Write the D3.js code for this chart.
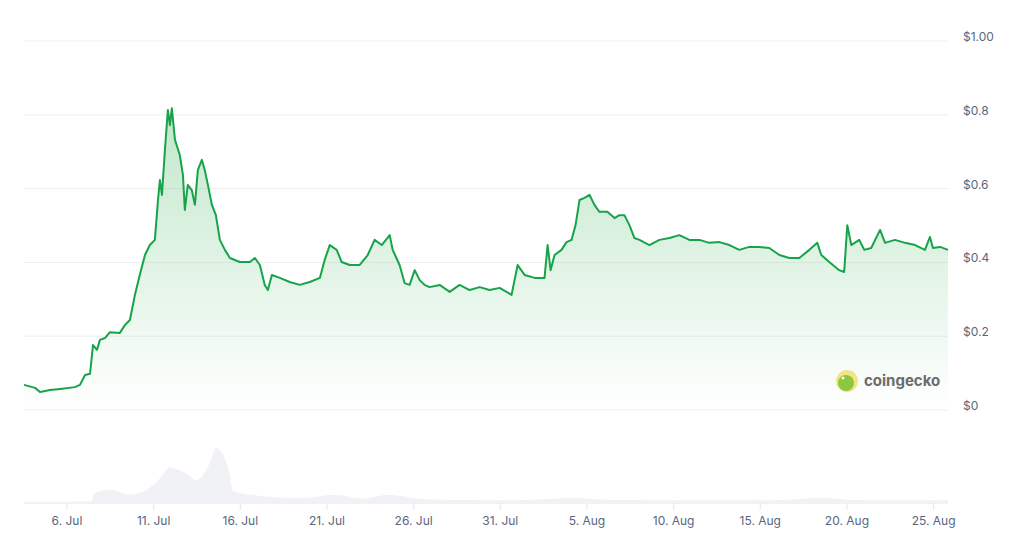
<!DOCTYPE html>
<html><head><meta charset="utf-8">
<script src="https://cdn.jsdelivr.net/npm/d3@7"></script>
<style>body{margin:0;background:#fff;font-family:Inter,"Noto Sans",sans-serif}</style>
</head><body><svg id="c" width="1024" height="540"></svg>
<script>
// time in fractional "day of July 2024" (32 = 1 Aug)
const days = [3.52,4.16,4.44,5.02,5.60,6.46,6.75,7.04,7.33,7.50,7.73,7.90,8.19,8.48,9.05,9.34,9.63,9.92,10.20,10.50,10.78,11.07,11.25,11.36,11.48,11.65,11.82,11.94,12.05,12.23,12.51,12.69,12.80,12.97,13.20,13.38,13.55,13.78,13.95,14.13,14.36,14.59,14.82,15.11,15.40,15.97,16.55,16.84,17.13,17.41,17.59,17.82,18.28,18.85,19.43,20.01,20.59,20.87,21.16,21.56,21.85,22.31,22.89,23.35,23.75,24.16,24.62,24.79,25.19,25.48,25.77,26.06,26.35,26.63,26.92,27.50,28.08,28.65,29.23,29.81,30.38,30.96,31.65,32.00,32.40,32.98,33.55,33.73,33.90,34.13,34.53,34.82,35.11,35.34,35.57,35.86,36.15,36.43,36.72,37.18,37.59,37.87,38.16,38.45,38.74,39.03,39.60,40.18,40.76,41.33,41.91,42.49,43.06,43.64,44.22,44.79,45.37,45.94,46.52,47.10,47.67,48.25,48.83,49.29,49.52,49.98,50.55,50.84,51.02,51.25,51.71,52.00,52.40,52.91,53.20,53.77,54.35,54.93,55.50,55.79,55.96,56.37,56.83];
const prices = [.068,.060,.049,.054,.057,.062,.068,.095,.098,.176,.163,.19,.195,.211,.209,.23,.244,.312,.366,.42,.447,.461,.569,.623,.583,.705,.813,.772,.818,.732,.691,.637,.542,.61,.596,.556,.65,.678,.65,.61,.556,.528,.461,.434,.412,.401,.401,.412,.393,.339,.325,.366,.358,.347,.339,.347,.358,.407,.447,.434,.401,.393,.393,.42,.461,.447,.474,.434,.393,.344,.339,.379,.352,.339,.333,.339,.32,.339,.325,.333,.325,.331,.312,.393,.366,.358,.358,.447,.379,.42,.434,.455,.461,.501,.569,.575,.583,.556,.537,.537,.52,.528,.528,.501,.466,.461,.447,.461,.466,.474,.461,.461,.453,.455,.447,.434,.442,.442,.439,.42,.412,.412,.434,.453,.42,.401,.379,.374,.501,.447,.461,.434,.439,.488,.453,.461,.453,.447,.434,.469,.439,.442,.434];
const volDays = [3.52,7.4,7.6,8.5,9.6,10.8,11.5,11.9,12.8,13.5,14.2,14.6,15.3,15.6,16.6,19.5,21.5,23.0,24.6,26.5,30,32,35.5,37,42,47,49.5,51,53,56.83];
const volumes = [.02,.03,.18,.24,.15,.28,.5,.65,.55,.42,.7,1.0,.64,.22,.15,.09,.15,.08,.15,.07,.05,.05,.09,.06,.05,.05,.09,.06,.05,.05];
const yTicks = [0,0.2,0.4,0.6,0.8,1.0];
const yTickLabels = ["$0","$0.2","$0.4","$0.6","$0.8","$1.00"];
const xTickDays = [6,11,16,21,26,31,36,41,46,51,56];
const xTickLabels = ["6. Jul","11. Jul","16. Jul","21. Jul","26. Jul","31. Jul","5. Aug","10. Aug","15. Aug","20. Aug","25. Aug"];

const toDate = d => new Date(Date.UTC(2024,6,1) + (d-1)*864e5);
const svg = d3.select("#c");
const x = d3.scaleUtc().domain([toDate(3.52), toDate(56.83)]).range([24,948]);
const y = d3.scaleLinear().domain([0,1]).range([410,41]);
const yv = d3.scaleLinear().domain([0,1]).range([503,448]);

svg.append("g").selectAll("line").data(yTicks).join("line")
  .attr("x1",24).attr("x2",948).attr("y1",d=>y(d)).attr("y2",d=>y(d))
  .attr("stroke","#efefef");
svg.append("g").selectAll("text").data(yTicks).join("text")
  .attr("x",963).attr("y",d=>y(d)).attr("font-size",12).attr("fill","#58667e")
  .text((d,i)=>yTickLabels[i]);

const defs = svg.append("defs");
const g = defs.append("linearGradient").attr("id","gr").attr("x1",0).attr("x2",0).attr("y1",0).attr("y2",1);
g.append("stop").attr("offset","0%").attr("stop-color","#22aa44").attr("stop-opacity",0.28);
g.append("stop").attr("offset","100%").attr("stop-color","#22aa44").attr("stop-opacity",0.0);

const pts = days.map((d,i)=>[toDate(d),prices[i]]);
svg.append("path").datum(pts).attr("fill","url(#gr)")
  .attr("d", d3.area().x(d=>x(d[0])).y0(y(0)).y1(d=>y(d[1])));
svg.append("path").datum(pts).attr("fill","none").attr("stroke","#17a34a").attr("stroke-width",2).attr("stroke-linejoin","round")
  .attr("d", d3.line().x(d=>x(d[0])).y(d=>y(d[1])));

const vp = volDays.map((d,i)=>[toDate(d),volumes[i]]);
svg.append("path").datum(vp).attr("fill","#f1f2f5")
  .attr("d", d3.area().curve(d3.curveMonotoneX).x(d=>x(d[0])).y0(yv(0)).y1(d=>yv(d[1])));
svg.append("line").attr("x1",24).attr("x2",948).attr("y1",503.5).attr("y2",503.5).attr("stroke","#f1f2f5");

const xa = svg.append("g");
xa.selectAll("line").data(xTickDays).join("line")
  .attr("x1",d=>x(toDate(d))).attr("x2",d=>x(toDate(d))).attr("y1",503).attr("y2",510).attr("stroke","#e5e7eb");
xa.selectAll("text").data(xTickDays).join("text")
  .attr("x",d=>x(toDate(d))).attr("y",525).attr("text-anchor","middle").attr("font-size",12).attr("fill","#58667e")
  .text((d,i)=>xTickLabels[i]);

const logo = svg.append("g");
logo.append("circle").attr("cx",847).attr("cy",381).attr("r",11).attr("fill","#f5e38a");
logo.append("circle").attr("cx",846).attr("cy",383).attr("r",8).attr("fill","#8dc63f");
logo.append("circle").attr("cx",843).attr("cy",378).attr("r",1.5).attr("fill","#fff");
logo.append("text").attr("x",864).attr("y",386).attr("font-size",15).attr("font-weight",700).attr("fill","#6b6b6b").text("coingecko");
</script></body></html>
